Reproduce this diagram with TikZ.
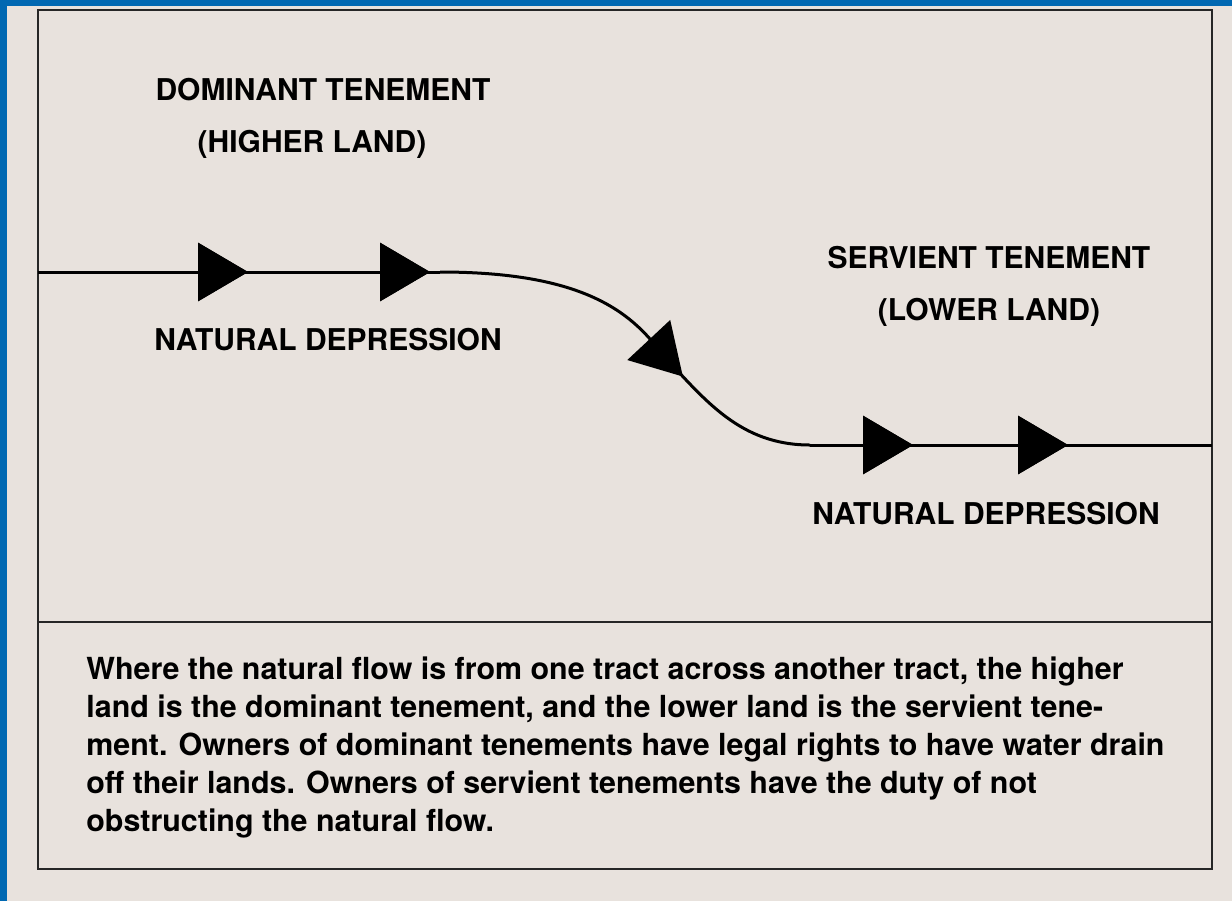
\documentclass[tikz,border=0pt]{standalone}
\usepackage{fontspec}
\setmainfont{TeX Gyre Heros}
\usetikzlibrary{arrows.meta}
\usetikzlibrary{decorations.markings}
\definecolor{paper}{RGB}{232,226,221}
\definecolor{frameblue}{RGB}{0,104,178}
\tikzset{
  flow/.style={line width=1.5pt, black},
  label/.style={font=\fontsize{15}{18}\selectfont\bfseries, inner sep=0pt, anchor=base},
  flowtip/.style={decoration={markings, mark=at position #1 with {\arrow{Triangle[length=25pt,width=29pt]}}}, postaction={decorate}}
}

\begin{document}
\begin{tikzpicture}[x=0.5pt, y=-0.5pt]
        % page and blue frame
        \fill[paper] (0,0) rectangle (1232,901);
        \fill[frameblue] (0,0) rectangle (1232,6);
        \fill[frameblue] (0,0) rectangle (7,901);
        \useasboundingbox (0,0) rectangle (1232,901);

        % drawing box and caption box
        \draw[line width=1pt, black!85] (38,10) rectangle (1212,869);
        \draw[line width=1pt, black!85] (38,622) -- (1212,622);

        % higher land
        \node[label] (dominant) at (323,100) {DOMINANT TENEMENT};
        \node[label] (higher) at (312,152) {(HIGHER LAND)};
        \node[label] (depupper) at (328,350) {NATURAL DEPRESSION};

        % lower land
        \node[label] (servient) at (989,268) {SERVIENT TENEMENT};
        \node[label] (lower) at (989,320) {(LOWER LAND)};
        \node[label] (deplower) at (986,524) {NATURAL DEPRESSION};

        % natural flow
        \coordinate (west) at (38,272);
        \coordinate (bend) at (440,272);
        \coordinate (slope) at (662,354);
        \coordinate (foot) at (810,445);
        \coordinate (east) at (1212,445);
        \draw[flow, flowtip=105pt, flowtip=196pt] (west) -- (bend);
        \draw[flow, flowtip=0.65] (bend) .. controls (580,272) and (630,310) .. (slope)
            .. controls (705,400) and (740,445) .. (foot);
        \draw[flow, flowtip=51.5pt, flowtip=129pt] (foot) -- (east);

        % caption
        \node[font=\fontsize{15.2}{19}\selectfont\bfseries, align=left, inner sep=0pt, anchor=north west] (caption) at (86,656)
            {Where the natural flow is from one tract across another tract, the higher\\
             land is the dominant tenement, and the lower land is the servient tene-\\
             ment. Owners of dominant tenements have legal rights to have water drain\\
             off their lands. Owners of servient tenements have the duty of not\\
             obstructing the natural flow.};
    \end{tikzpicture}
\end{document}
